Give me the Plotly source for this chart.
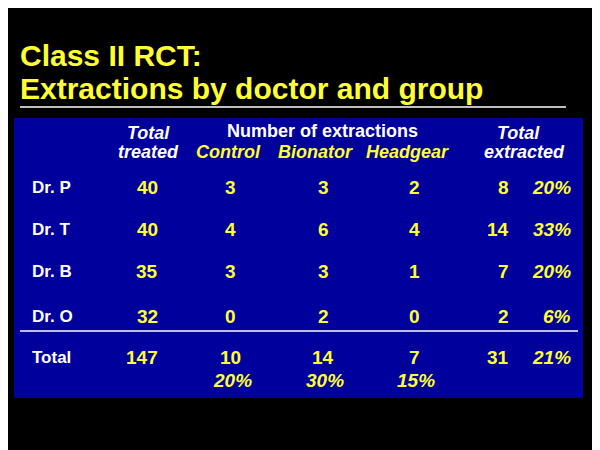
import plotly.graph_objects as go

doctors = ["Dr. P", "Dr. T", "Dr. B", "Dr. O"]
treated = [40, 40, 35, 32]
control = [3, 4, 3, 0]
bionator = [3, 6, 3, 2]
headgear = [2, 4, 1, 0]
extracted = [8, 14, 7, 2]
extracted_pct = ["20%", "33%", "20%", "6%"]
total_row = {"treated": 147, "control": 10, "bionator": 14, "headgear": 7, "extracted": 31, "pct": "21%"}
group_pct = ["20%", "30%", "15%"]

YEL = "#ffff33"
WHITE = "#ffffff"
FONT = "Liberation Sans, Arial, sans-serif"

fig = go.Figure()
ann = []


def txt(x, y, s, color=YEL, size=19, anchor="center", italic=False, bold=True):
    s = str(s)
    if bold:
        s = "<b>" + s + "</b>"
    if italic:
        s = "<i>" + s + "</i>"
    ann.append(dict(x=x, y=y, xref="x", yref="y", text=s, showarrow=False,
                    xanchor=anchor, yanchor="middle",
                    font=dict(family=FONT, size=size, color=color)))


# title
txt(18, 55, "Class II RCT:", size=30, anchor="left")
txt(18, 88, "Extractions by doctor and group", size=30, anchor="left")

# headers
txt(148, 133, "Total", WHITE, 18, italic=True)
txt(148, 152, "treated", WHITE, 18, italic=True)
txt(322, 131, "Number of extractions", WHITE, 18)
txt(228, 152, "Control", YEL, 18, italic=True)
txt(315, 152, "Bionator", YEL, 18, italic=True)
txt(407, 152, "Headgear", YEL, 18, italic=True)
txt(518, 133, "Total", WHITE, 18, italic=True)
txt(524, 152, "extracted", WHITE, 18, italic=True)

rows_y = [187, 229, 271, 316]
for i, y in enumerate(rows_y):
    txt(30, y, doctors[i], WHITE, 17, anchor="left")
    txt(160, y, treated[i], anchor="right")
    txt(230, y, control[i])
    txt(323, y, bionator[i])
    txt(414, y, headgear[i])
    txt(511, y, extracted[i], anchor="right")
    txt(573, y, extracted_pct[i], anchor="right", italic=True)

y = 357
txt(30, y, "Total", WHITE, 17, anchor="left")
txt(160, y, total_row["treated"], anchor="right")
txt(230, y, total_row["control"])
txt(323, y, total_row["bionator"])
txt(414, y, total_row["headgear"])
txt(511, y, total_row["extracted"], anchor="right")
txt(573, y, total_row["pct"], anchor="right", italic=True)
for x, p in zip([232, 325, 416], group_pct):
    txt(x, 380, p, italic=True)

shapes = [
    dict(type="rect", x0=14, x1=583, y0=118, y1=398, xref="x", yref="y",
         fillcolor="#00009c", line=dict(width=0), layer="below"),
    dict(type="line", x0=20, x1=566, y0=107, y1=107, xref="x", yref="y",
         line=dict(color=WHITE, width=1.5)),
    dict(type="line", x0=20, x1=578, y0=331, y1=331, xref="x", yref="y",
         line=dict(color=WHITE, width=1.5)),
]

# page body adds an 8px margin, so shift the view to compensate
fig.update_layout(
    width=600, height=450, margin=dict(l=0, r=0, t=0, b=0),
    paper_bgcolor="black", plot_bgcolor="black",
    xaxis=dict(range=[8, 608], visible=False, fixedrange=True),
    yaxis=dict(range=[458, 8], visible=False, fixedrange=True),
    annotations=ann, shapes=shapes, showlegend=False,
)
fig.write_html("out.html")
